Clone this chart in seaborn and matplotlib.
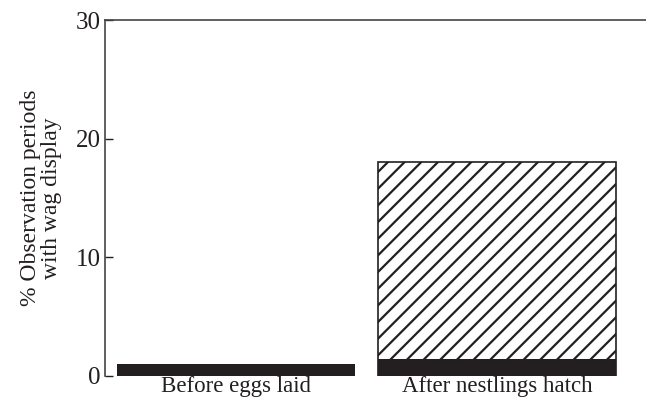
import numpy as np
import pandas as pd
import matplotlib
matplotlib.use("Agg")
import matplotlib.pyplot as plt
import seaborn as sns

# data
periods = ["Before eggs laid", "After nestlings hatch"]
solid_part = [1.0, 1.4]     # black lower part of each bar
bar_total = [0.0, 18.0]     # top of hatched part

sns.set_style("white")
plt.rcParams["font.family"] = ["Liberation Serif", "DejaVu Serif"]
plt.rcParams["hatch.linewidth"] = 1.6
plt.rcParams["hatch.color"] = "#231f20"

df = pd.DataFrame({"period": periods, "solid": solid_part, "total": bar_total})

fig = plt.figure(figsize=(6.46, 4.03), dpi=100)
ax = fig.add_axes([0.1625, 0.067, 0.8375, 0.883])

# hatched total first, solid part drawn over it
sns.barplot(data=df, x="period", y="total", color="white", edgecolor="#231f20",
            linewidth=1.2, width=0.91, ax=ax, saturation=1)
for p in ax.patches:
    p.set_hatch("//")
sns.barplot(data=df, x="period", y="solid", color="#231f20", edgecolor="#231f20",
            linewidth=0, width=0.91, ax=ax, saturation=1)

ax.set_xlim(-0.5, 1.57)
ax.set_ylim(0, 30)
ax.set_yticks([0, 10, 20, 30])
ax.tick_params(axis="y", direction="in", length=5.8, width=1, labelsize=18,
               colors="#231f20", left=True, pad=3)
ax.tick_params(axis="x", length=0, labelsize=16.5, pad=0, colors="#231f20")
ax.set_xlabel("")
ax.set_ylabel("% Observation periods\nwith wag display", fontsize=17,
              color="#231f20", linespacing=1.0, labelpad=10)

for side in ["right", "bottom"]:
    ax.spines[side].set_visible(False)
for side in ["left", "top"]:
    ax.spines[side].set_color("#444444")
    ax.spines[side].set_linewidth(1.2)

plt.savefig("out.png", dpi=100)
